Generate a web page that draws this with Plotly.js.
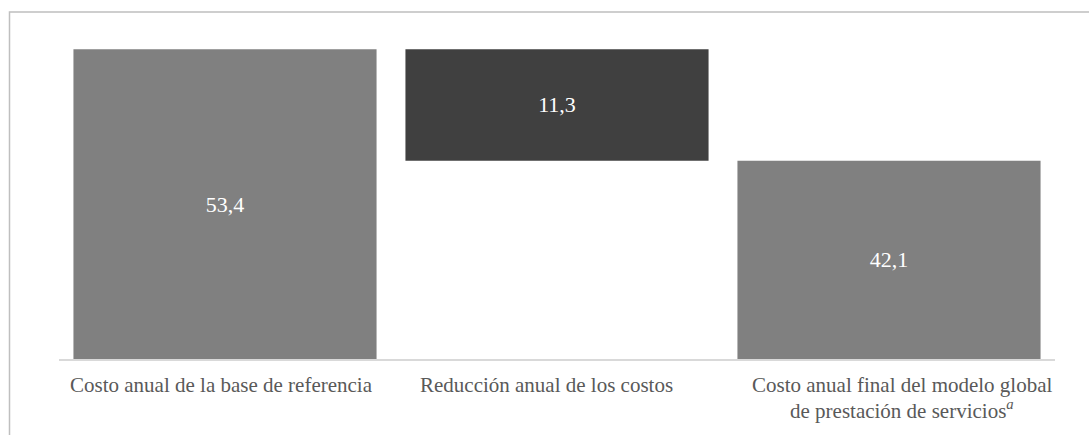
<!DOCTYPE html>
<html>
<head>
<meta charset="utf-8">
<script src="https://cdn.plot.ly/plotly-3.0.1.min.js"></script>
<style>html,body{margin:0;padding:0;background:#fff;}#chart{width:1089px;height:435px;}</style>
</head>
<body>
<div id="chart"></div>
<script>
var categories = [
  "Costo anual de la base de referencia",
  "Reducción anual de los costos",
  "Costo anual final del modelo global<br>de prestación de servicios<sup><i>a</i></sup>"
];
var values = [53.4, -11.3, 42.1];
var measures = ["absolute", "relative", "total"];
var labels = ["53,4", "11,3", "42,1"];
var barColors = ["#808080", "#404040", "#808080"];
var axisMin = 22;

// compute bar tops/bottoms (waterfall logic)
var bases = [], heights = [], running = 0;
for (var i = 0; i < values.length; i++) {
  var lo, hi;
  if (measures[i] === "relative") {
    var next = running + values[i];
    lo = Math.min(running, next); hi = Math.max(running, next);
    running = next;
  } else {
    if (measures[i] === "absolute") running = values[i];
    lo = axisMin; hi = running;
  }
  bases.push(lo); heights.push(hi - lo);
}

var SERIF = "Liberation Serif";

var trace = {
  type: "bar",
  x: categories,
  y: heights,
  base: bases,
  marker: {color: barColors},
  text: labels,
  textposition: "inside",
  insidetextanchor: "middle",
  constraintext: "none",
  textangle: 0,
  textfont: {family: SERIF, size: 22, color: "#ffffff"},
  hoverinfo: "skip"
};

// category labels drawn as annotations (one per line) to mimic the source layout
var labelShift = [-4, -11, 13];
var annotations = [];
categories.forEach(function (cat, i) {
  cat.split("<br>").forEach(function (line, j) {
    annotations.push({
      xref: "x", yref: "paper", x: cat, y: 0,
      xanchor: "center", yanchor: "top",
      xshift: labelShift[i], yshift: -12 - 23 * j,
      text: line, showarrow: false,
      font: {family: SERIF, size: 21, color: "#595959"}
    });
  });
});

var layout = {
  width: 1089, height: 435,
  margin: {l: 59, r: 34, t: 20, b: 76},
  paper_bgcolor: "#ffffff",
  plot_bgcolor: "#ffffff",
  showlegend: false,
  bargap: 0.087,
  font: {family: SERIF},
  xaxis: {
    showline: true, linecolor: "#d9d9d9", linewidth: 2,
    ticks: "", showgrid: false, zeroline: false, showticklabels: false
  },
  yaxis: {
    range: [axisMin, 56.36], visible: false, showgrid: false, zeroline: false
  },
  annotations: annotations,
  shapes: [{
    type: "rect", xref: "paper", yref: "paper",
    x0: -0.0497, x1: 1.2, y0: -0.5, y1: 1.0236,
    line: {color: "#bfbfbf", width: 1.5}, fillcolor: "rgba(0,0,0,0)", layer: "below"
  }]
};

Plotly.newPlot("chart", [trace], layout, {displayModeBar: false, staticPlot: true});
</script>
</body>
</html>
